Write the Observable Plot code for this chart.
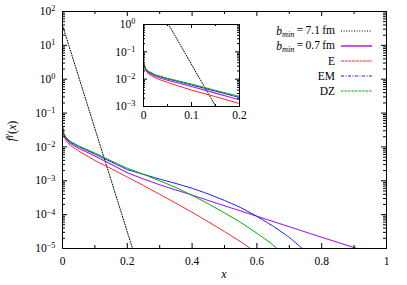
<!DOCTYPE html>
<html><head><meta charset="utf-8">
<script src="https://cdn.jsdelivr.net/npm/d3@7"></script>
<script src="https://cdn.jsdelivr.net/npm/@observablehq/plot@0.6"></script>
<style>
body{margin:0;background:#fff;}
#wrap{position:relative;width:407px;height:285px;font-family:"Liberation Serif",serif;}
#wrap > svg{position:absolute;overflow:visible}
</style></head><body><div id="wrap"></div>
<script>
// ---- data (log10 of f(x)) ----
const x71 = [0, 0.05, 0.1, 0.15, 0.2, 0.216];
const log71 = [1.59, 0.07, -1.46, -2.98, -4.51, -5.0];

const xDZ = [0, 0.004, 0.011, 0.025, 0.05, 0.1, 0.15, 0.2, 0.25, 0.3, 0.35, 0.4, 0.45, 0.5, 0.55, 0.6, 0.64, 0.662];
const logDZ = [-1.38, -1.6, -1.72, -1.84, -1.97, -2.18, -2.41, -2.63, -2.81, -3.0, -3.2, -3.43, -3.68, -3.95, -4.23, -4.55, -4.82, -5.0];

const xEM = [0, 0.004, 0.011, 0.025, 0.05, 0.1, 0.15, 0.2, 0.25, 0.3, 0.35, 0.4, 0.45, 0.5, 0.55, 0.6, 0.65, 0.7, 0.74];
const logEM = [-1.4, -1.62, -1.74, -1.86, -1.99, -2.21, -2.44, -2.67, -2.81, -2.95, -3.08, -3.22, -3.39, -3.58, -3.79, -4.05, -4.34, -4.67, -5.0];

const x07 = [0, 0.004, 0.011, 0.025, 0.05, 0.1, 0.15, 0.2, 0.25, 0.3, 0.35, 0.4, 0.45, 0.5, 0.6, 0.7, 0.8, 0.909];
const log07 = [-1.42, -1.64, -1.77, -1.9, -2.04, -2.27, -2.51, -2.76, -2.95, -3.12, -3.27, -3.42, -3.58, -3.74, -4.05, -4.36, -4.67, -5.0];

const xE = [0, 0.004, 0.011, 0.025, 0.05, 0.1, 0.15, 0.2, 0.25, 0.3, 0.35, 0.4, 0.45, 0.5, 0.55, 0.58];
const logE = [-1.45, -1.68, -1.82, -1.96, -2.12, -2.4, -2.64, -2.89, -3.14, -3.4, -3.66, -3.93, -4.21, -4.5, -4.8, -5.0];

const seriesNames = ["b71", "b07", "E", "EM", "DZ"];
const colors = {b71: "#000000", b07: "#a020f0", E: "#ff2a2a", EM: "#1a1aff", DZ: "#00b000"};
const dashes = {b71: "1,1.6", b07: null, E: null, EM: "5,0.8", DZ: null};
const widths = {b71: 1, b07: 1.1, E: 1, EM: 1, DZ: 1};

const xMajor = [0, 0.2, 0.4, 0.6, 0.8, 1];
const xMinor = [0.1, 0.3, 0.5, 0.7, 0.9];
const yExpMain = [-5, -4, -3, -2, -1, 0, 1, 2];
const insetXMajor = [0, 0.1, 0.2];
const insetXMinor = [0.05, 0.15];
const yExpInset = [-3, -2, -1, 0];

// ---- build tables ----
const mk = (xs, ls) => xs.map((x, i) => ({x, y: Math.pow(10, ls[i])}));
const data = {
  b71: mk(x71, log71), b07: mk(x07, log07), E: mk(xE, logE), EM: mk(xEM, logEM), DZ: mk(xDZ, logDZ)
};
const majorsOf = exps => exps.map(e => Math.pow(10, e));
const minorsOf = exps => {
  const out = [];
  for (let i = 0; i < exps.length - 1; i++) for (let k = 2; k <= 9; k++) out.push(k * Math.pow(10, exps[i]));
  return out;
};
const supFmt = d => "10^" + Math.round(Math.log10(d));
const numFmt = d => String(d);

function tickSet(xMaj, xMin, yMaj, yMin, pw, ph, maj, min) {
  const s = {stroke: "#000", strokeWidth: 1};
  return [
    Plot.tickX(xMaj, {x: d => d, insetTop: ph - maj, ...s}),
    Plot.tickX(xMaj, {x: d => d, insetBottom: ph - maj, ...s}),
    Plot.tickX(xMin, {x: d => d, insetTop: ph - min, ...s}),
    Plot.tickX(xMin, {x: d => d, insetBottom: ph - min, ...s}),
    Plot.tickY(yMaj, {y: d => d, insetRight: pw - maj, ...s}),
    Plot.tickY(yMaj, {y: d => d, insetLeft: pw - maj, ...s}),
    Plot.tickY(yMin, {y: d => d, insetRight: pw - min, ...s}),
    Plot.tickY(yMin, {y: d => d, insetLeft: pw - min, ...s})
  ];
}
function curves() {
  return seriesNames.map(n => Plot.line(data[n], {
    x: "x", y: "y", stroke: colors[n], strokeWidth: widths[n],
    strokeDasharray: dashes[n] || undefined, clip: true
  }));
}
function supify(svg) {
  d3.select(svg).selectAll("text").each(function () {
    const m = /^10\^(-?\d+)$/.exec(this.textContent);
    if (!m) return;
    const sel = d3.select(this);
    sel.selectAll("*").remove();
    sel.text(null);
    sel.append("tspan").text("10");
    sel.append("tspan").attr("dy", "-0.45em").attr("font-size", "0.72em").text(m[1].replace("-", "\u2212"));
  });
}

const W = 407, H = 285, mL = 62, mR = 21, mT = 11, mB = 37;
const pw = W - mL - mR, ph = H - mT - mB;

const main = Plot.plot({
  width: W, height: H, marginLeft: mL, marginRight: mR, marginTop: mT, marginBottom: mB,
  style: {fontFamily: "Liberation Serif, serif", fontSize: "11.5px", background: "transparent", color: "#000"},
  x: {domain: [0, 1]},
  y: {type: "log", domain: [1e-5, 1e2]},
  marks: [
    ...curves(),
    ...tickSet(xMajor, xMinor, majorsOf(yExpMain), minorsOf(yExpMain), pw, ph, 5, 3),
    Plot.frame({stroke: "#000", strokeWidth: 1}),
    Plot.axisX({ticks: xMajor, tickSize: 0, tickPadding: 8, tickFormat: numFmt, label: null}),
    Plot.axisY({ticks: majorsOf(yExpMain), tickSize: 0, tickPadding: 7, tickFormat: supFmt, label: null})
  ]
});
document.getElementById("wrap").appendChild(main);
main.style.left = "0px"; main.style.top = "0px";
supify(main);

const ms = d3.select(main);
// axis titles
ms.append("text").attr("x", 224).attr("y", 278).attr("text-anchor", "middle")
  .attr("font-style", "italic").attr("font-size", "12px").text("x");
const yl = ms.append("text").attr("transform", "translate(15,131) rotate(-90)")
  .attr("text-anchor", "middle").attr("font-size", "12px");
yl.append("tspan").attr("font-style", "italic").text("f");
yl.append("tspan").attr("font-style", "italic").attr("font-size", "0.8em").attr("dy", "-0.45em").text("\u03b3");
yl.append("tspan").attr("dy", "0.45em").text("(");
yl.append("tspan").attr("font-style", "italic").text("x");
yl.append("tspan").text(")");

// legend
const legendRows = [
  {key: "b71", value: "7.1"},
  {key: "b07", value: "0.7"},
  {key: "E", label: "E"},
  {key: "EM", label: "EM"},
  {key: "DZ", label: "DZ"}
];
const legendDash = {b71: "1,1.6", b07: null, E: "3,0.7", EM: "3,1.5,1,1.5", DZ: "2.5,1"};
const legendW = {b71: 1, b07: 1.5, E: 1, EM: 1, DZ: 1.1};
legendRows.forEach((r, i) => {
  const cy = 31 + i * 15;
  const t = ms.append("text").attr("x", 335).attr("y", cy + 4).attr("text-anchor", "end").attr("font-size", "11.5px");
  if (r.value) {
    t.append("tspan").attr("font-style", "italic").text("b");
    t.append("tspan").attr("font-style", "italic").attr("font-size", "0.72em").attr("dy", "0.3em").text("min");
    t.append("tspan").attr("dy", "-0.3em").text("\u2009=\u2009" + r.value + "\u2009fm");
  } else t.text(r.label);
  ms.append("line").attr("x1", 341).attr("x2", 372).attr("y1", cy).attr("y2", cy)
    .attr("stroke", colors[r.key]).attr("stroke-width", legendW[r.key])
    .attr("stroke-dasharray", legendDash[r.key]);
});

// inset
const iL = 40, iR = 8, iT = 6, iB = 16, ipw = 96, iph = 82;
const inset = Plot.plot({
  width: iL + ipw + iR, height: iT + iph + iB,
  marginLeft: iL, marginRight: iR, marginTop: iT, marginBottom: iB,
  style: {fontFamily: "Liberation Serif, serif", fontSize: "11.5px", background: "transparent", color: "#000"},
  x: {domain: [0, 0.2]},
  y: {type: "log", domain: [1e-3, 1]},
  marks: [
    Plot.frame({fill: "white"}),
    ...curves(),
    ...tickSet(insetXMajor, insetXMinor, majorsOf(yExpInset), minorsOf(yExpInset), ipw, iph, 4, 2),
    Plot.frame({stroke: "#000", strokeWidth: 1}),
    Plot.axisX({ticks: insetXMajor, tickSize: 0, tickPadding: 4, tickFormat: numFmt, label: null}),
    Plot.axisY({ticks: majorsOf(yExpInset), tickSize: 0, tickPadding: 8, tickFormat: supFmt, label: null})
  ]
});
document.getElementById("wrap").appendChild(inset);
inset.style.left = (143 - iL) + "px"; inset.style.top = (24 - iT) + "px";
supify(inset);
</script>
</body></html>
